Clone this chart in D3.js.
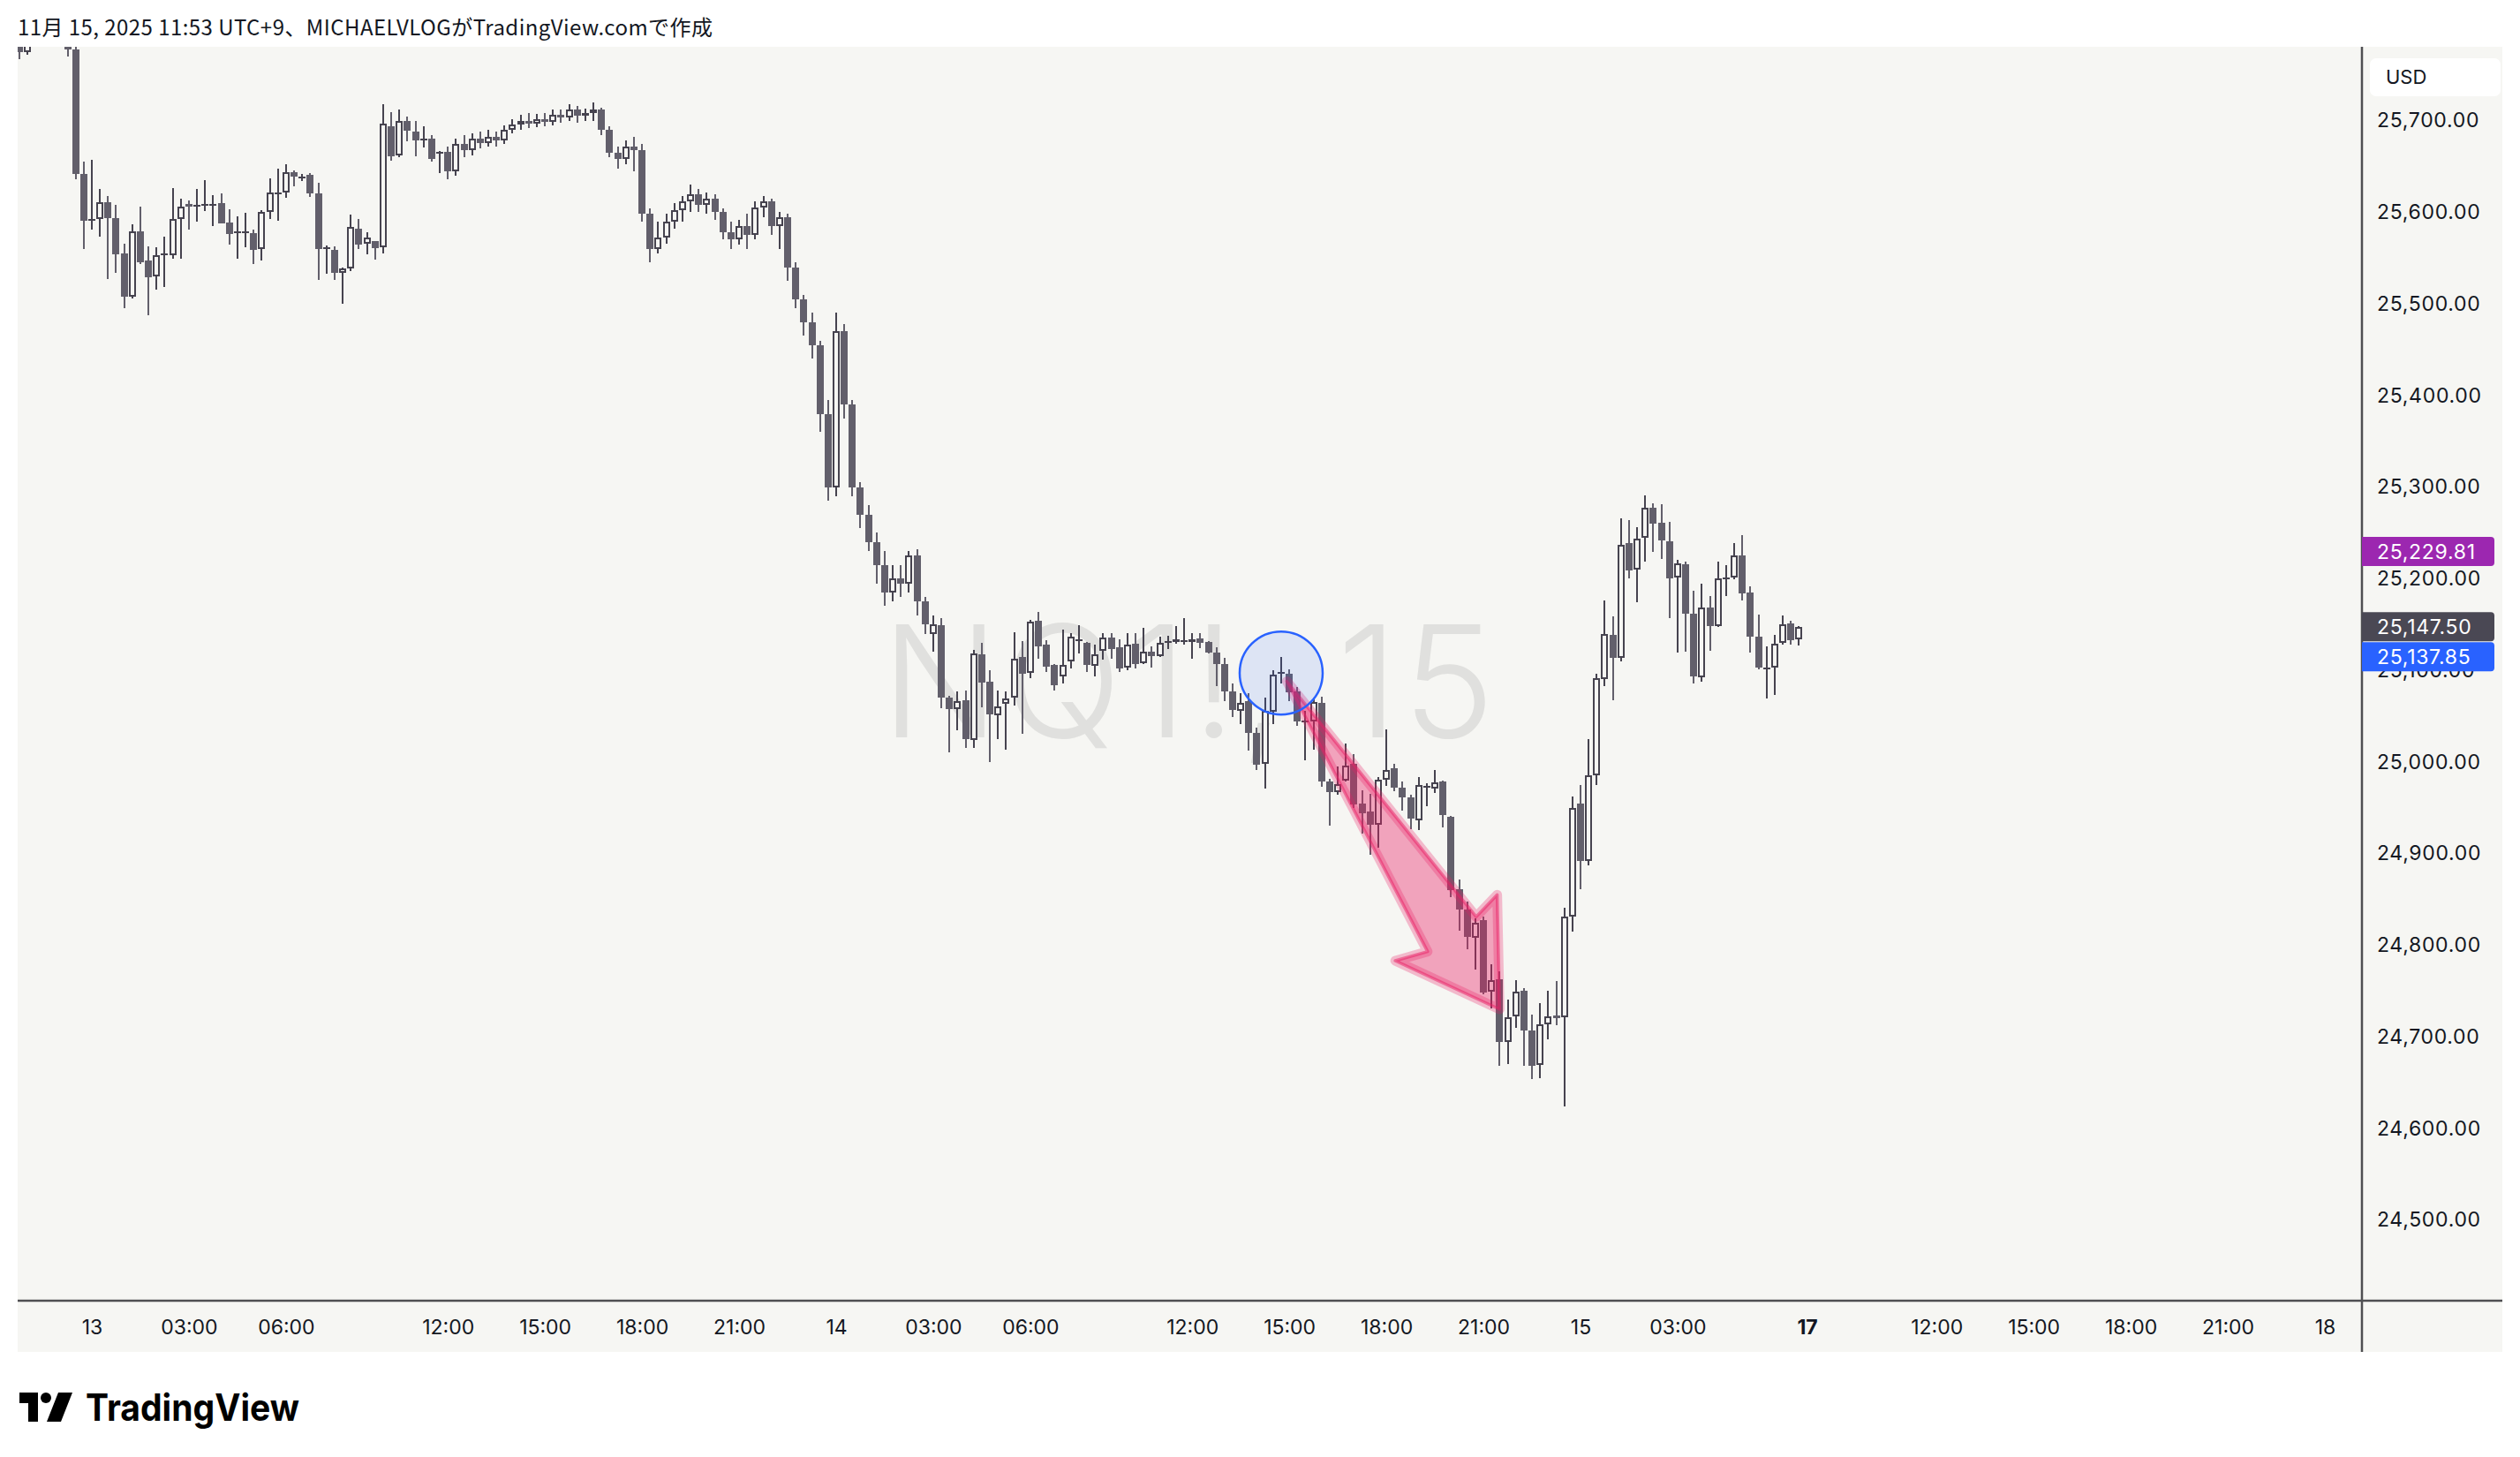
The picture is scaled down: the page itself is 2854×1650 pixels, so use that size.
<!DOCTYPE html>
<html lang="ja">
<head>
<meta charset="utf-8">
<title>NQ1!, 15</title>
<script src="https://d3js.org/d3.v7.min.js"></script>
<style>
  html, body { margin: 0; padding: 0; background: #ffffff; }
  svg { display: block; }
  text { font-family: "Inter", "Roboto", "Noto Sans", sans-serif; }
</style>
</head>
<body>
<script>
// ---- data: 15 min bars of NQ1!, [open, high, low, close] ----
// bar index 0 = 13 Nov 00:00 JST, daily break 07:00-08:00 is skipped
var firstIndex = -9;

var barsNov12 = [
  [25800,25810,25767,25775],[25775,25815,25772,25805],[25805,25825,25795,25815],
  [25815,25830,25800,25808],[25808,25820,25790,25798],[25798,25812,25781,25800],
  [25800,25806,25770,25778],[25778,25790,25636,25642],[25642,25655,25560,25591]
];

var barsNov13 = [
  [25591,25657,25581,25593],[25593,25625,25573,25611],[25611,25618,25527,25594],[25594,25608,25534,25554],
  [25555,25566,25495,25508],[25508,25587,25506,25579],[25579,25606,25543,25545],[25547,25563,25488,25529],
  [25530,25562,25516,25553],[25554,25573,25518,25555],[25553,25626,25549,25593],[25593,25615,25549,25606],
  [25609,25613,25581,25606],[25608,25625,25590,25608],[25608,25635,25601,25609],[25609,25619,25585,25609],
  [25610,25621,25588,25588],[25589,25603,25565,25576],[25579,25596,25549,25579],[25579,25599,25562,25579],
  [25577,25581,25543,25559],[25560,25602,25547,25600],[25600,25637,25593,25622],[25622,25648,25591,25622],
  [25622,25652,25616,25644],[25644,25646,25628,25639],[25639,25642,25634,25639],[25641,25643,25617,25621],
  [25621,25632,25526,25560],[25562,25564,25533,25562],[25559,25563,25526,25534],[25534,25540,25500,25539],
  [25539,25597,25536,25584],[25582,25593,25560,25565],[25566,25578,25554,25572],[25569,25569,25548,25561],
  [25562,25718,25555,25697],[25694,25709,25656,25661],[25662,25712,25660,25700],[25700,25704,25677,25689],
  [25688,25700,25661,25678],[25680,25694,25671,25680],[25680,25684,25655,25658],[25666,25667,25643,25666],
  [25666,25672,25636,25645],[25645,25680,25640,25675],[25675,25684,25660,25668],[25668,25686,25662,25680],
  [25680,25688,25670,25676],[25676,25690,25672,25682],[25682,25688,25672,25678],[25678,25695,25675,25690],
  [25690,25702,25686,25696],[25696,25706,25690,25700],[25700,25708,25692,25697],[25697,25707,25693,25702],
  [25702,25708,25694,25699],[25699,25712,25695,25706],[25706,25712,25698,25703],[25703,25718,25700,25712],
  [25712,25716,25698,25705],[25705,25713,25700,25708],[25708,25720,25700,25712],[25712,25714,25684,25690],
  [25690,25694,25660,25665],[25665,25672,25648,25658],[25658,25678,25652,25672],[25672,25682,25645,25668],
  [25668,25675,25590,25598],[25598,25604,25545,25560],[25560,25590,25555,25572],[25572,25598,25566,25590],
  [25590,25610,25582,25602],[25602,25618,25590,25612],[25612,25630,25600,25620],[25620,25625,25600,25608],
  [25608,25622,25598,25615],[25615,25620,25592,25600],[25600,25604,25570,25578],[25578,25590,25560,25570],
  [25570,25592,25565,25585],[25585,25598,25560,25575],[25575,25612,25570,25605],[25605,25618,25595,25612],
  [25612,25615,25575,25585],[25585,25600,25560,25595],[25595,25598,25525,25540],[25540,25545,25495,25505],
  [25505,25510,25465,25480],[25480,25490,25440,25455],[25455,25460,25360,25380],[25380,25395,25285,25300]
];

var barsNov14 = [
  [25300,25490,25290,25470],[25470,25478,25375,25390],[25390,25395,25290,25300],[25300,25305,25255,25270],
  [25270,25280,25230,25240],[25240,25250,25195,25215],[25215,25230,25170,25185],[25185,25215,25175,25200],
  [25200,25215,25180,25195],[25195,25230,25185,25225],[25225,25232,25160,25175],[25175,25180,25140,25150],
  [25140,25160,25120,25150],[25149,25157,25059,25070],[25070,25072,25010,25058],[25058,25077,25035,25066],
  [25067,25078,25015,25025],[25024,25122,25015,25118],[25117,25130,25060,25087],[25088,25100,25000,25052],
  [25051,25078,25025,25061],[25063,25077,25013,25069],[25070,25142,25062,25113],[25115,25132,25031,25096],
  [25097,25155,25091,25153],[25154,25164,25113,25126],[25128,25133,25098,25104],[25106,25107,25078,25084],
  [25093,25144,25086,25106],[25110,25141,25102,25137],[25134,25149,25118,25134],[25130,25131,25098,25106],
  [25105,25128,25093,25117],[25121,25141,25112,25136],[25136,25141,25113,25123],[25125,25134,25098,25102],
  [25103,25141,25100,25128],[25129,25141,25102,25107],[25108,25146,25107,25120],[25120,25126,25103,25116],
  [25116,25137,25115,25130],[25132,25138,25123,25132],[25131,25148,25129,25134],[25133,25157,25128,25133],
  [25131,25141,25113,25134],[25135,25141,25124,25130],[25131,25132,25118,25119],[25119,25125,25083,25107],
  [25107,25114,25066,25077],[25077,25086,25049,25057],[25056,25075,25041,25064],[25066,25075,25012,25032],
  [25032,25037,24991,24997],[24998,25070,24971,25056],[25055,25100,25041,25095],[25098,25115,25086,25098],
  [25096,25101,25066,25076],[25077,25082,25039,25044],[25045,25056,25002,25045],[25044,25070,25013,25065],
  [25064,25071,24973,24979],[24979,24982,24930,24967],[24967,24995,24964,24976],[24980,25020,24979,24996],
  [24998,25009,24950,24954],[24955,24969,24922,24944],[24946,24965,24899,24931],[24931,24983,24906,24981],
  [24981,25036,24974,24991],[24993,24998,24968,24972],[24972,24979,24947,24961],[24961,24964,24927,24938],
  [24936,24983,24926,24975],[24974,24977,24952,24974],[24971,24991,24966,24978],[24979,24980,24929,24942],
  [24940,24941,24852,24860],[24861,24872,24816,24839],[24839,24848,24796,24809],[24808,24829,24773,24824],
  [24827,24831,24746,24748],[24749,24779,24731,24762],[24763,24771,24668,24694],[24694,24741,24670,24721],
  [24722,24762,24710,24749],[24750,24753,24668,24707],[24707,24724,24654,24668],[24669,24737,24655,24714],
  [24714,24750,24697,24722],[24723,24761,24713,24720],[24721,24841,24624,24831],[24831,24962,24815,24950]
];

var barsNov15 = [
  [24955,24975,24861,24892],[24892,25025,24887,24985],[24985,25096,24975,25091],[25090,25176,25083,25140],
  [25139,25159,25067,25114],[25114,25266,25110,25237],[25239,25264,25200,25209],[25210,25256,25174,25244],
  [25245,25291,25219,25277],[25277,25282,25229,25260],[25261,25281,25222,25242],[25241,25262,25157,25200],
  [25201,25221,25119,25217],[25216,25219,25120,25162],[25162,25187,25086,25093],[25092,25195,25088,25169],
  [25169,25181,25121,25148],[25148,25219,25147,25200],[25201,25215,25181,25201],[25201,25239,25199,25225],
  [25225,25248,25176,25184],[25185,25192,25119,25137],[25137,25161,25101,25103],[25103,25126,25069,25103],
  [25103,25139,25073,25129],[25130,25160,25128,25150],[25151,25154,25128,25133],[25134,25148,25127,25147.5]
];

var priceTicks = [24500, 24600, 24700, 24800, 24900, 25000, 25100, 25200, 25300, 25400, 25500, 25600, 25700];

var timeTickIndex = [0, 12, 24, 44, 56, 68, 80, 92, 104, 116, 136, 148, 160, 172, 184, 196, 212, 228, 240, 252, 264, 276];
var timeTickLabel = ["13", "03:00", "06:00", "12:00", "15:00", "18:00", "21:00", "14", "03:00", "06:00", "12:00",
                     "15:00", "18:00", "21:00", "15", "03:00", "17", "12:00", "15:00", "18:00", "21:00", "18"];

var tagValues = [25229.81, 25147.50, 25137.85];
var tagColors = ["#9c27b0", "#4a4854", "#2962ff"];

// drawings on the chart (price / bar index)
var circleCenter = {i: 147, p: 25097};
var arrowPoints = [
  {i: 147.7, p: 25088}, {i: 171.1, p: 24831}, {i: 173.7, p: 24855}, {i: 174.0, p: 24730},
  {i: 161.1, p: 24783}, {i: 165.1, p: 24793}
];

var headerText = "11月 15, 2025 11:53 UTC+9、MICHAELVLOGがTradingView.comで作成";

// ---- layout ----
var W = 2854, H = 1650;
var plot = {left: 20, top: 53, right: 2675, bottom: 1473};
var panelRight = 2834, panelBottom = 1531;
var bg = "#f6f6f3", upColor = "#46434f", downColor = "#625f6b", textColor = "#131722";

var x = d3.scaleLinear().domain([0, 276]).range([104, 2633]);
var y = d3.scaleLinear().domain([24500, 25700]).range([1381.6, 136.6]);

var bars = [].concat(barsNov12, barsNov13, barsNov14, barsNov15).map(function(d, k) {
  return {i: firstIndex + k, o: d[0], h: d[1], l: d[2], c: d[3]};
});

var svg = d3.select("body").append("svg")
  .attr("width", W)
  .attr("height", H);

svg.append("rect").attr("width", W).attr("height", H).attr("fill", "#ffffff");

// header
svg.append("text")
  .attr("x", 20).attr("y", 40)
  .attr("textLength", 787)
  .attr("lengthAdjust", "spacing")
  .style("font-family", "'Noto Sans CJK JP', 'Noto Sans', sans-serif")
  .style("font-size", "24px")
  .attr("fill", textColor)
  .text(headerText);

// chart panel background
svg.append("rect")
  .attr("x", plot.left).attr("y", plot.top)
  .attr("width", panelRight - plot.left).attr("height", panelBottom - plot.top)
  .attr("fill", bg);

svg.append("defs").append("clipPath").attr("id", "plotClip")
  .append("rect")
  .attr("x", plot.left).attr("y", plot.top)
  .attr("width", plot.right - plot.left).attr("height", plot.bottom - plot.top);

// watermark
svg.append("text")
  .attr("x", 998).attr("y", 835)
  .attr("textLength", 695)
  .attr("lengthAdjust", "spacing")
  .style("font-size", "176px")
  .style("font-weight", 300)
  .attr("fill", "#e0e0de")
  .text("NQ1!, 15");

// candles
var cg = svg.append("g")
  .attr("clip-path", "url(#plotClip)")
  .attr("shape-rendering", "crispEdges");

function cx(d) { return Math.round(x(d.i)); }
function bodyTop(d) { return y(Math.max(d.o, d.c)); }
function bodyH(d) { return Math.max(2, y(Math.min(d.o, d.c)) - y(Math.max(d.o, d.c))); }

cg.selectAll(".wick").data(bars).join("rect")
  .attr("class", "wick")
  .attr("x", function(d) { return cx(d) - 1; })
  .attr("y", function(d) { return y(d.h); })
  .attr("width", 2)
  .attr("height", function(d) { return Math.max(1, y(d.l) - y(d.h)); })
  .attr("fill", function(d) { return d.c >= d.o ? upColor : downColor; });

cg.selectAll(".body").data(bars).join("rect")
  .attr("class", "body")
  .attr("x", function(d) { return cx(d) - 4; })
  .attr("y", bodyTop)
  .attr("width", 8)
  .attr("height", bodyH)
  .attr("fill", function(d) { return d.c >= d.o ? upColor : downColor; });

// hollow inside of up bars
cg.selectAll(".hollow").data(bars.filter(function(d) { return d.c > d.o && bodyH(d) > 5; })).join("rect")
  .attr("class", "hollow")
  .attr("x", function(d) { return cx(d) - 2; })
  .attr("y", function(d) { return bodyTop(d) + 2; })
  .attr("width", 4)
  .attr("height", function(d) { return bodyH(d) - 4; })
  .attr("fill", bg);

// arrow drawing
var arrowPath = d3.line()
  .x(function(d) { return x(d.i); })
  .y(function(d) { return y(d.p); })
  .curve(d3.curveLinearClosed);

var ag = svg.append("g").attr("clip-path", "url(#plotClip)");
ag.append("path")
  .attr("d", arrowPath(arrowPoints))
  .attr("fill", "rgba(233,30,99,0.38)")
  .attr("stroke", "rgba(233,30,99,0.28)")
  .attr("stroke-width", 11)
  .attr("stroke-linejoin", "round");
ag.append("path")
  .attr("d", arrowPath(arrowPoints))
  .attr("fill", "none")
  .attr("stroke", "rgba(233,30,99,0.5)")
  .attr("stroke-width", 3.5)
  .attr("stroke-linejoin", "round");

// circle drawing
ag.append("circle")
  .attr("cx", x(circleCenter.i)).attr("cy", y(circleCenter.p))
  .attr("r", 47)
  .attr("fill", "rgba(41,98,255,0.12)")
  .attr("stroke", "#2962ff")
  .attr("stroke-width", 2.5);

// price axis
var yAxis = d3.axisRight(y)
  .tickValues(priceTicks)
  .tickSize(0)
  .tickPadding(17)
  .tickFormat(d3.format(",.2f"));

var ya = svg.append("g")
  .attr("transform", "translate(" + plot.right + ",0)")
  .call(yAxis);
ya.select(".domain").remove();
ya.selectAll("text")
  .style("font-size", "23px")
  .style("letter-spacing", "0.7px")
  .attr("fill", textColor);

// time axis
var xAxis = d3.axisBottom(x)
  .tickValues(timeTickIndex)
  .tickSize(0)
  .tickPadding(22)
  .tickFormat(function(d, k) { return timeTickLabel[k]; });

var xa = svg.append("g")
  .attr("transform", "translate(0," + plot.bottom + ")")
  .call(xAxis);
xa.select(".domain").remove();
xa.selectAll("text")
  .style("font-size", "23px")
  .style("font-weight", function(d, k) { return timeTickLabel[k] === "17" ? 700 : 400; })
  .attr("fill", textColor);

// separators
svg.append("line")
  .attr("x1", plot.left).attr("x2", panelRight)
  .attr("y1", plot.bottom).attr("y2", plot.bottom)
  .attr("stroke", "#4f4f52").attr("stroke-width", 2.5);
svg.append("line")
  .attr("x1", plot.right).attr("x2", plot.right)
  .attr("y1", plot.top).attr("y2", panelBottom)
  .attr("stroke", "#4f4f52").attr("stroke-width", 2.5);

// currency box
svg.append("rect")
  .attr("x", 2684).attr("y", 66).attr("width", 148).attr("height", 43)
  .attr("rx", 7).attr("fill", "#ffffff");
svg.append("text")
  .attr("x", 2702).attr("y", 95)
  .style("font-size", "22px")
  .attr("fill", textColor)
  .text("USD");

// price tags, pushed apart when they overlap
var tagH = 33, tagW = 150;
var tags = tagValues.map(function(v, k) { return {v: v, c: tagColors[k], yc: y(v)}; });
var byPos = tags.slice().sort(function(a, b) { return a.yc - b.yc; });
for (var k = 1; k < byPos.length; k++) {
  if (byPos[k].yc - byPos[k - 1].yc < tagH + 1) byPos[k].yc = byPos[k - 1].yc + tagH + 1;
}
var tg = svg.selectAll(".tag").data(tags).join("g")
  .attr("class", "tag")
  .attr("transform", function(d) { return "translate(" + plot.right + "," + (d.yc - tagH / 2) + ")"; });
tg.append("path")
  .attr("d", "M0,0H" + (tagW - 4) + "Q" + tagW + ",0 " + tagW + ",4V" + (tagH - 4) + "Q" + tagW + "," + tagH + " " + (tagW - 4) + "," + tagH + "H0Z")
  .attr("fill", function(d) { return d.c; });
tg.append("text")
  .attr("x", 17).attr("y", tagH / 2).attr("dy", "0.36em")
  .style("font-size", "23px")
  .style("letter-spacing", "0.7px")
  .attr("fill", "#ffffff")
  .text(function(d) { return d3.format(",.2f")(d.v); });

// TradingView logo
var logo = svg.append("g").attr("transform", "translate(22,1577)").attr("fill", "#000000");
logo.append("path").attr("d", "M0,0H21V33H10V12H0Z");
logo.append("circle").attr("cx", 30).attr("cy", 6).attr("r", 6);
logo.append("path").attr("d", "M44,0H60L47,33H31Z");
svg.append("text")
  .attr("x", 97).attr("y", 1609)
  .attr("textLength", 242)
  .attr("lengthAdjust", "spacingAndGlyphs")
  .style("font-size", "42px")
  .style("font-weight", 700)
  .attr("fill", "#000000")
  .text("TradingView");
</script>
</body>
</html>
